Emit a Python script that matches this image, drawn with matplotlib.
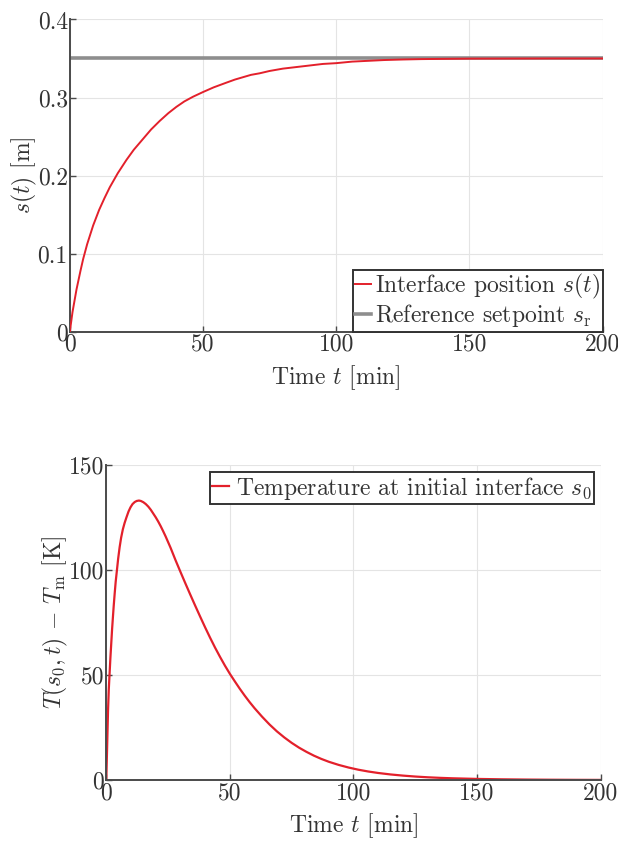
import numpy as np
import matplotlib
matplotlib.use("Agg")
import matplotlib.pyplot as plt
from matplotlib.ticker import FuncFormatter

plt.rcParams['font.family'] = ['cmr10', 'DejaVu Serif']
plt.rcParams['mathtext.fontset'] = 'cm'
plt.rcParams['axes.formatter.use_mathtext'] = True
plt.rcParams['axes.unicode_minus'] = False

# interface position s(t) [m]
t_pos = [0, 1, 2.5, 4, 5, 6.5, 8.75, 11, 13, 15, 18, 21.25, 24, 27.5, 30.5,
         33.75, 37, 40, 43, 46.25, 50, 54, 58.75, 62, 65, 68, 71.25, 75, 80,
         85, 90, 95, 100, 106, 112, 118, 125, 132, 140, 150, 165, 180, 200]
s_pos = [0.0, 0.025, 0.054, 0.078, 0.093, 0.112, 0.136, 0.156, 0.171, 0.185,
         0.203, 0.220, 0.233, 0.247, 0.259, 0.270, 0.280, 0.288, 0.295, 0.301,
         0.307, 0.313, 0.319, 0.323, 0.326, 0.329, 0.331, 0.334, 0.337, 0.339,
         0.341, 0.343, 0.344, 0.346, 0.347, 0.348, 0.3487, 0.3492, 0.3495,
         0.3498, 0.3499, 0.35, 0.35]
s_ref = 0.35

# temperature at the initial interface T(s0,t) - Tm [K], bottom panel
t_temp = [0, 0.3, 0.7, 1.0, 1.3, 1.65, 2.0, 2.35, 2.7, 3.0, 3.4, 3.8, 4.3,
          4.8, 5.4, 6.0, 6.7, 7.4, 8.1, 9.0, 9.8, 10.6, 11.5, 12.3, 13.2, 14,
          15, 16, 17, 18, 19, 20, 21, 22, 23, 24, 25, 26, 28, 30, 32, 34, 36,
          38, 40, 42, 44, 46, 48, 50, 52, 54, 56, 58, 60, 63, 66, 69, 72, 75,
          78, 81, 84, 87, 90, 94, 98, 102, 106, 110, 115, 120, 125, 130, 135,
          140, 150, 160, 170, 180, 190, 200]
dT = [0, 14, 33, 43, 50, 58, 65, 72, 78, 83, 89, 94.5, 100,
      105.5, 111, 115.5, 119.5, 122.5, 125, 128, 130, 131.5, 132.5, 133, 133.2,
      133, 132.4, 131.5, 130.3, 128.8, 127.0, 125.2, 123.2, 121.0, 118.6,
      116.1, 113.4, 110.7, 104.8, 99.2, 93.7, 88.3, 83.0, 77.8, 72.7, 67.8,
      63.1, 58.7, 54.5, 50.6, 47.0, 43.5, 40.2, 37.1, 34.2, 30.2, 26.5, 23.2,
      20.3, 17.7, 15.4, 13.4, 11.6, 10.05, 8.7, 7.2, 5.95, 4.9, 4.05, 3.35,
      2.65, 2.1, 1.65, 1.3, 1.03, 0.82, 0.52, 0.33, 0.21, 0.13, 0.08, 0.05]

RED = '#e3202b'
GRAY = '#8e8e8e'
DARK = '#333333'
FS = 17


def style_axes(ax):
    ax.grid(True, color='#e4e4e4', linewidth=0.8)
    ax.set_axisbelow(True)
    for side in ['top', 'right']:
        ax.spines[side].set_visible(False)
    for side in ['left', 'bottom']:
        ax.spines[side].set_color('#4a4a4a')
        ax.spines[side].set_linewidth(1.4)
    ax.tick_params(direction='in', length=4, width=1, colors='#4a4a4a',
                   labelcolor=DARK, labelsize=FS, pad=1.5)
    ax.yaxis.set_major_formatter(FuncFormatter(lambda v, p: f"{v:g}"))
    ax.xaxis.set_major_formatter(FuncFormatter(lambda v, p: f"{v:g}"))


fig = plt.figure(figsize=(6.18, 8.46), dpi=100)

ax1 = fig.add_axes([0.113, 0.608, 0.862, 0.369])
ax1.plot([0, 200], [s_ref, s_ref], color=GRAY, lw=2.6, zorder=2,
         label=r'Reference setpoint $s_\mathrm{r}$')
ax1.plot(t_pos, s_pos, color=RED, lw=1.4, zorder=3,
         label=r'Interface position $s(t)$')
ax1.set_xlim(0, 200)
ax1.set_ylim(0, 0.4)
ax1.set_xticks([0, 50, 100, 150, 200])
ax1.set_yticks([0, 0.1, 0.2, 0.3, 0.4])
style_axes(ax1)
ax1.set_xlabel(r'Time $t$ [min]', fontsize=FS, color=DARK, labelpad=5)
ax1.set_ylabel(r'$s(t)$ [m]', fontsize=FS, color=DARK, labelpad=-1)
h, l = ax1.get_legend_handles_labels()
leg1 = ax1.legend(h[::-1], l[::-1], loc='lower right', fontsize=FS,
                  handlelength=0.7, handletextpad=0.15, borderpad=0.1,
                  labelspacing=0.05, borderaxespad=0.0, fancybox=False,
                  framealpha=1, edgecolor='#333333')
leg1.get_frame().set_linewidth(1.4)
for txt in leg1.get_texts():
    txt.set_color(DARK)

ax2 = fig.add_axes([0.172, 0.078, 0.80, 0.372])
ax2.plot(t_temp, dT, color=RED, lw=1.6,
         label=r'Temperature at initial interface $s_0$')
ax2.set_xlim(0, 200)
ax2.set_ylim(0, 150)
ax2.set_xticks([0, 50, 100, 150, 200])
ax2.set_yticks([0, 50, 100, 150])
style_axes(ax2)
ax2.set_xlabel(r'Time $t$ [min]', fontsize=FS, color=DARK, labelpad=5)
ax2.set_ylabel(r'$T(s_0,t)\,-\,T_\mathrm{m}$ [K]', fontsize=FS, color=DARK,
               labelpad=-1)
leg2 = ax2.legend(loc='upper right', fontsize=FS, handlelength=0.7,
                  handletextpad=0.3, borderpad=0.1, borderaxespad=0.3,
                  fancybox=False, framealpha=1, edgecolor='#333333')
leg2.get_frame().set_linewidth(1.4)
for txt in leg2.get_texts():
    txt.set_color(DARK)

fig.savefig('out.png', dpi=100)
